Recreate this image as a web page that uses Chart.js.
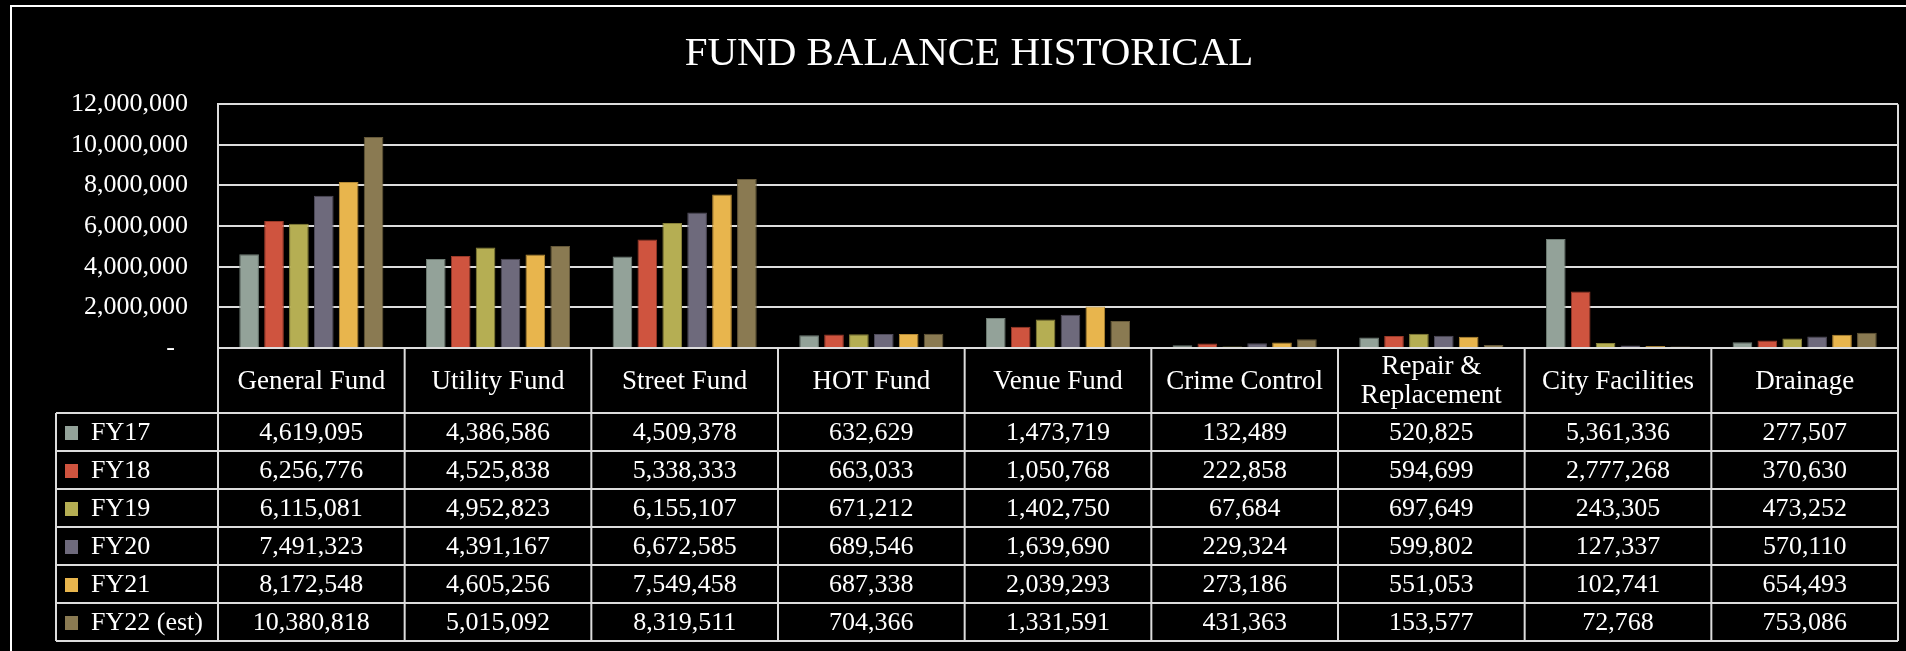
<!DOCTYPE html>
<html>
<head>
<meta charset="utf-8">
<title>Fund Balance Historical</title>
<script src="https://cdn.jsdelivr.net/npm/chart.js@4/dist/chart.umd.min.js"></script>
<style>
  html, body { margin: 0; padding: 0; background: #000; }
  #wrap { width: 1906px; height: 651px; position: relative; }
</style>
</head>
<body>
<div id="wrap"><canvas id="chart" width="1906" height="651"></canvas></div>
<script>
// ---- data ----
const categories = ['General Fund', 'Utility Fund', 'Street Fund', 'HOT Fund', 'Venue Fund',
                    'Crime Control', ['Repair &', 'Replacement'], 'City Facilities', 'Drainage'];
const seriesNames = ['FY17', 'FY18', 'FY19', 'FY20', 'FY21', 'FY22 (est)'];
const fy17 = [4619095, 4386586, 4509378, 632629, 1473719, 132489, 520825, 5361336, 277507];
const fy18 = [6256776, 4525838, 5338333, 663033, 1050768, 222858, 594699, 2777268, 370630];
const fy19 = [6115081, 4952823, 6155107, 671212, 1402750, 67684, 697649, 243305, 473252];
const fy20 = [7491323, 4391167, 6672585, 689546, 1639690, 229324, 599802, 127337, 570110];
const fy21 = [8172548, 4605256, 7549458, 687338, 2039293, 273186, 551053, 102741, 654493];
const fy22 = [10380818, 5015092, 8319511, 704366, 1331591, 431363, 153577, 72768, 753086];
const seriesValues = [fy17, fy18, fy19, fy20, fy21, fy22];
const seriesColors = ['#93A299', '#CF543F', '#B5AE53', '#6E6A7C', '#E8B54D', '#8A7A52'];
const seriesBorders = ['#6f7d75', '#9c3a29', '#88823a', '#4f4b5a', '#b58a35', '#66593a'];

const LINE = '#dcdcdc';
const FONT = '"Liberation Serif", "Times New Roman", serif';
Chart.defaults.font.family = FONT;
Chart.defaults.color = '#fff';

const fmt = v => v.toLocaleString('en-US');

// outer frame behind everything
const framePlugin = {
  id: 'frame',
  beforeDraw(chart) {
    const ctx = chart.ctx;
    ctx.save();
    ctx.fillStyle = '#000';
    ctx.fillRect(0, 0, chart.width, chart.height);
    ctx.strokeStyle = '#fff';
    ctx.lineWidth = 2;
    ctx.beginPath();
    ctx.moveTo(11, chart.height + 2);
    ctx.lineTo(11, 6);
    ctx.lineTo(chart.width + 2, 6);
    ctx.stroke();
    ctx.restore();
  }
};

// data table under the x axis (Excel style)
const tablePlugin = {
  id: 'dataTable',
  afterDraw(chart) {
    const { ctx, chartArea } = chart;
    const x = chart.scales.x;
    const n = categories.length;
    const cw = (chartArea.right - chartArea.left) / n;
    const top = chartArea.bottom;
    const headBottom = 413;
    const rowH = 38;
    const bottom = headBottom + rowH * seriesNames.length;
    const legendLeft = 56;

    ctx.save();
    ctx.strokeStyle = LINE;
    ctx.lineWidth = 2;
    ctx.beginPath();
    // right border of the plot
    ctx.moveTo(chartArea.right, chartArea.top);
    ctx.lineTo(chartArea.right, top);
    // column lines
    for (let i = 0; i <= n; i++) {
      const cx = chartArea.left + i * cw;
      ctx.moveTo(cx, top);
      ctx.lineTo(cx, bottom);
    }
    // row lines
    for (let r = 0; r <= seriesNames.length; r++) {
      const y = headBottom + r * rowH;
      ctx.moveTo(legendLeft, y);
      ctx.lineTo(chartArea.right, y);
    }
    ctx.moveTo(legendLeft, headBottom);
    ctx.lineTo(legendLeft, bottom);
    ctx.stroke();

    ctx.font = '26px ' + FONT;
    ctx.textBaseline = 'middle';
    seriesNames.forEach((name, r) => {
      const yc = headBottom + r * rowH + rowH / 2 + 1;
      ctx.fillStyle = seriesColors[r];
      ctx.fillRect(65, yc - 7, 13, 14);
      ctx.fillStyle = '#fff';
      ctx.textAlign = 'left';
      ctx.fillText(name, 91, yc);
      ctx.textAlign = 'center';
      seriesValues[r].forEach((v, i) => {
        ctx.fillText(fmt(v), x.getPixelForValue(i), yc);
      });
    });
    ctx.restore();
  }
};

new Chart(document.getElementById('chart'), {
  type: 'bar',
  data: {
    labels: categories,
    datasets: seriesNames.map((name, i) => ({
      label: name,
      data: seriesValues[i],
      backgroundColor: seriesColors[i],
      borderColor: seriesBorders[i],
      borderWidth: 1,
      categoryPercentage: 0.8,
      barPercentage: 0.79
    }))
  },
  options: {
    responsive: false,
    animation: false,
    devicePixelRatio: 1,
    layout: { padding: { left: 40, right: 8, top: 0, bottom: 0 } },
    plugins: {
      legend: { display: false },
      tooltip: { enabled: false },
      title: {
        display: true,
        text: 'FUND BALANCE HISTORICAL',
        color: '#fff',
        font: { size: 41, weight: 'normal', family: FONT },
        padding: { top: 30, bottom: 25 }
      }
    },
    scales: {
      y: {
        min: 0,
        max: 12000000,
        ticks: {
          stepSize: 2000000,
          color: '#fff',
          font: { size: 26 },
          padding: 30,
          callback: v => v === 0 ? '-  ' : fmt(v)
        },
        grid: { color: LINE, lineWidth: 2, drawTicks: false },
        border: { display: true, color: LINE, width: 2 },
        afterFit: s => { s.width = 178; }   // plot starts at x=218
      },
      x: {
        ticks: {
          color: '#fff',
          // single-line labels get a double line height so they sit in the middle of the header cell
          font: c => ({ size: 27, lineHeight: Array.isArray(categories[c.index]) ? 1.06 : 2.12 }),
          padding: 5,
          maxRotation: 0,
          minRotation: 0,
          autoSkip: false
        },
        grid: { display: false, drawTicks: false },
        border: { display: true, color: LINE, width: 2 },
        afterFit: s => { s.height = 303; }
      }
    }
  },
  plugins: [framePlugin, tablePlugin]
});
</script>
</body>
</html>
